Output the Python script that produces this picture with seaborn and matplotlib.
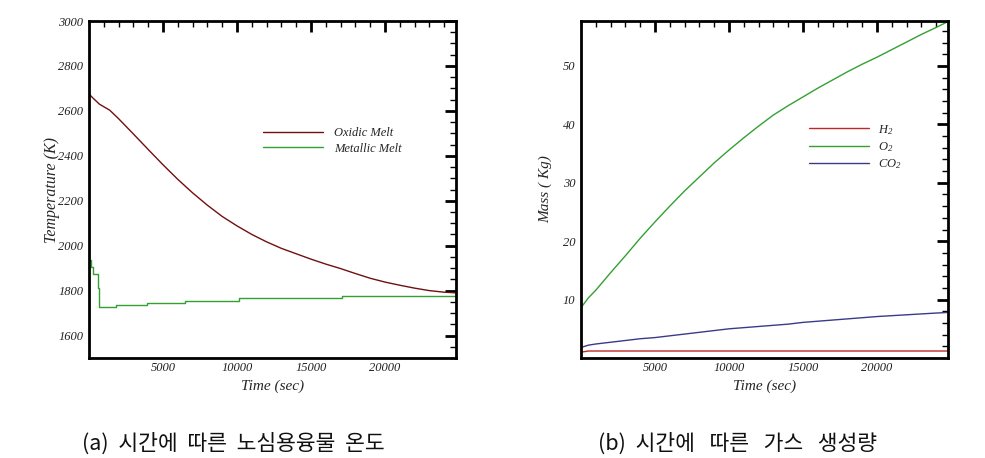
import matplotlib
matplotlib.use("Agg")
import matplotlib.pyplot as plt
from matplotlib.ticker import MultipleLocator, FixedLocator
import seaborn as sns

# (a) core melt temperature vs time
oxidic_time = [0, 300, 700, 1400, 2000, 3000, 4000, 5000, 6000, 7000, 8000, 9000,
               10000, 11000, 12000, 13000, 14000, 15000, 16000, 17000, 18000,
               19000, 20000, 21000, 22000, 23000, 24000, 24800]
oxidic_temp = [2675, 2655, 2630, 2603, 2565, 2497, 2428, 2360, 2295, 2235, 2180, 2130,
               2088, 2050, 2017, 1988, 1964, 1940, 1918, 1898, 1876,
               1855, 1838, 1824, 1811, 1800, 1793, 1790]

metallic_time = [0, 100, 300, 600, 700, 1850, 3900, 6500, 10100, 17100, 24800]
metallic_temp = [1935, 1905, 1875, 1810, 1728, 1736, 1746, 1756, 1766, 1777, 1777]

# (b) gas mass vs time
gas_time = [0, 500, 1000, 2000, 3000, 4000, 5000, 6000, 7000, 8000, 9000,
            10000, 11000, 12000, 13000, 14000, 15000, 16000, 17000, 18000,
            19000, 20000, 21000, 22000, 23000, 24000, 24800]
h2_mass = [1.0, 1.2, 1.2, 1.2, 1.2, 1.2, 1.2, 1.2, 1.2, 1.2, 1.2,
           1.2, 1.2, 1.2, 1.2, 1.2, 1.2, 1.2, 1.2, 1.2,
           1.2, 1.2, 1.2, 1.2, 1.2, 1.2, 1.2]
o2_mass = [8.6, 10.3, 11.6, 14.6, 17.5, 20.5, 23.3, 26.0, 28.6, 31.0, 33.4,
           35.6, 37.7, 39.7, 41.6, 43.2, 44.7, 46.2, 47.6, 49.0,
           50.3, 51.5, 52.8, 54.1, 55.4, 56.6, 57.6]
co2_mass = [1.8, 2.2, 2.4, 2.7, 3.0, 3.3, 3.5, 3.8, 4.1, 4.4, 4.7,
            5.0, 5.2, 5.4, 5.6, 5.8, 6.1, 6.3, 6.5, 6.7,
            6.9, 7.1, 7.25, 7.4, 7.55, 7.7, 7.8]

x_ticks = [5000, 10000, 15000, 20000]
temp_ticks = [1600, 1800, 2000, 2200, 2400, 2600, 2800, 3000]
mass_ticks = [10, 20, 30, 40, 50]

caption_a = "(a)  시간에  따른  노심용융물  온도"
caption_b = "(b)  시간에   따른   가스   생성량"

SERIF_IT = {"family": "Liberation Serif", "style": "italic"}


def style_axes(ax):
    """Tecplot-like box axes with inward ticks on all sides"""
    for sp in ax.spines.values():
        sp.set_visible(True)
        sp.set_linewidth(2)
        sp.set_color("black")
    ax.tick_params(which="both", direction="in", top=True, right=True,
                   labelsize=9, colors="black")
    ax.tick_params(which="major", length=8, width=2, pad=4)
    ax.tick_params(axis="x", which="major", pad=3)
    ax.tick_params(which="minor", length=4, width=1)
    for lab in ax.get_xticklabels() + ax.get_yticklabels():
        lab.set_fontfamily("Liberation Serif")
        lab.set_fontstyle("italic")
        lab.set_color("#222222")
    ax.xaxis.set_major_locator(FixedLocator(x_ticks))
    ax.xaxis.set_minor_locator(MultipleLocator(1000))
    ax.set_xlim(0, 24800)
    ax.grid(False)


def main():
    sns.set_theme(style="white")
    plt.rcParams["mathtext.fontset"] = "custom"
    plt.rcParams["mathtext.rm"] = "Liberation Serif:italic"
    plt.rcParams["mathtext.it"] = "Liberation Serif:italic"

    fig = plt.figure(figsize=(9.85, 4.58), dpi=100)
    ax1 = fig.add_axes([0.0904, 0.2183, 0.3726, 0.7358])
    ax2 = fig.add_axes([0.5898, 0.2183, 0.3726, 0.7358])

    # left panel
    sns.lineplot(x=oxidic_time, y=oxidic_temp, ax=ax1, color="#701010",
                 linewidth=1, label="Oxidic Melt")
    sns.lineplot(x=metallic_time, y=metallic_temp, ax=ax1, color="#33a033",
                 linewidth=1, label="Metallic Melt", drawstyle="steps-post")
    ax1.set_ylim(1500, 3000)
    ax1.yaxis.set_major_locator(FixedLocator(temp_ticks))
    ax1.yaxis.set_minor_locator(MultipleLocator(50))
    style_axes(ax1)
    ax1.set_xlabel("Time (sec)", fontsize=11, **SERIF_IT)
    ax1.set_ylabel("Temperature (K)", fontsize=11.5, **SERIF_IT)
    ax1.xaxis.set_label_coords(0.5, -0.063)
    ax1.yaxis.set_label_coords(-0.08, 0.5)
    ax1.legend(loc="upper left", bbox_to_anchor=(0.474, 0.685), frameon=False,
               borderpad=0, borderaxespad=0, handlelength=4.8,
               handletextpad=0.9, labelspacing=0.28,
               prop={"family": "Liberation Serif", "style": "italic", "size": 9})

    # right panel
    sns.lineplot(x=gas_time, y=h2_mass, ax=ax2, color="#c02828",
                 linewidth=1, label="H$_2$")
    sns.lineplot(x=gas_time, y=o2_mass, ax=ax2, color="#33a033",
                 linewidth=1, label="O$_2$")
    sns.lineplot(x=gas_time, y=co2_mass, ax=ax2, color="#3a3a8a",
                 linewidth=1, label="CO$_2$")
    ax2.set_ylim(0, 57.7)
    ax2.yaxis.set_major_locator(FixedLocator(mass_ticks))
    ax2.yaxis.set_minor_locator(MultipleLocator(2))
    style_axes(ax2)
    ax2.set_xlabel("Time (sec)", fontsize=11, **SERIF_IT)
    ax2.set_ylabel("Mass ( Kg)", fontsize=11, **SERIF_IT)
    ax2.xaxis.set_label_coords(0.5, -0.063)
    ax2.yaxis.set_label_coords(-0.078, 0.5)
    ax2.legend(loc="upper left", bbox_to_anchor=(0.621, 0.698), frameon=False,
               borderpad=0, borderaxespad=0, handlelength=4.8,
               handletextpad=0.7, labelspacing=0.28,
               prop={"family": "Liberation Serif", "style": "italic", "size": 9})

    # captions under the panels
    cap_font = ["Noto Sans CJK KR", "DejaVu Sans"]
    fig.text(82 / 985, 1 - 444 / 458, caption_a, ha="left", va="center",
             fontsize=15.5, family=cap_font, color="#111111")
    fig.text(598 / 985, 1 - 444 / 458, caption_b, ha="left", va="center",
             fontsize=15.5, family=cap_font, color="#111111")

    fig.savefig("out.png", dpi=100)
    plt.close(fig)


if __name__ == "__main__":
    main()
